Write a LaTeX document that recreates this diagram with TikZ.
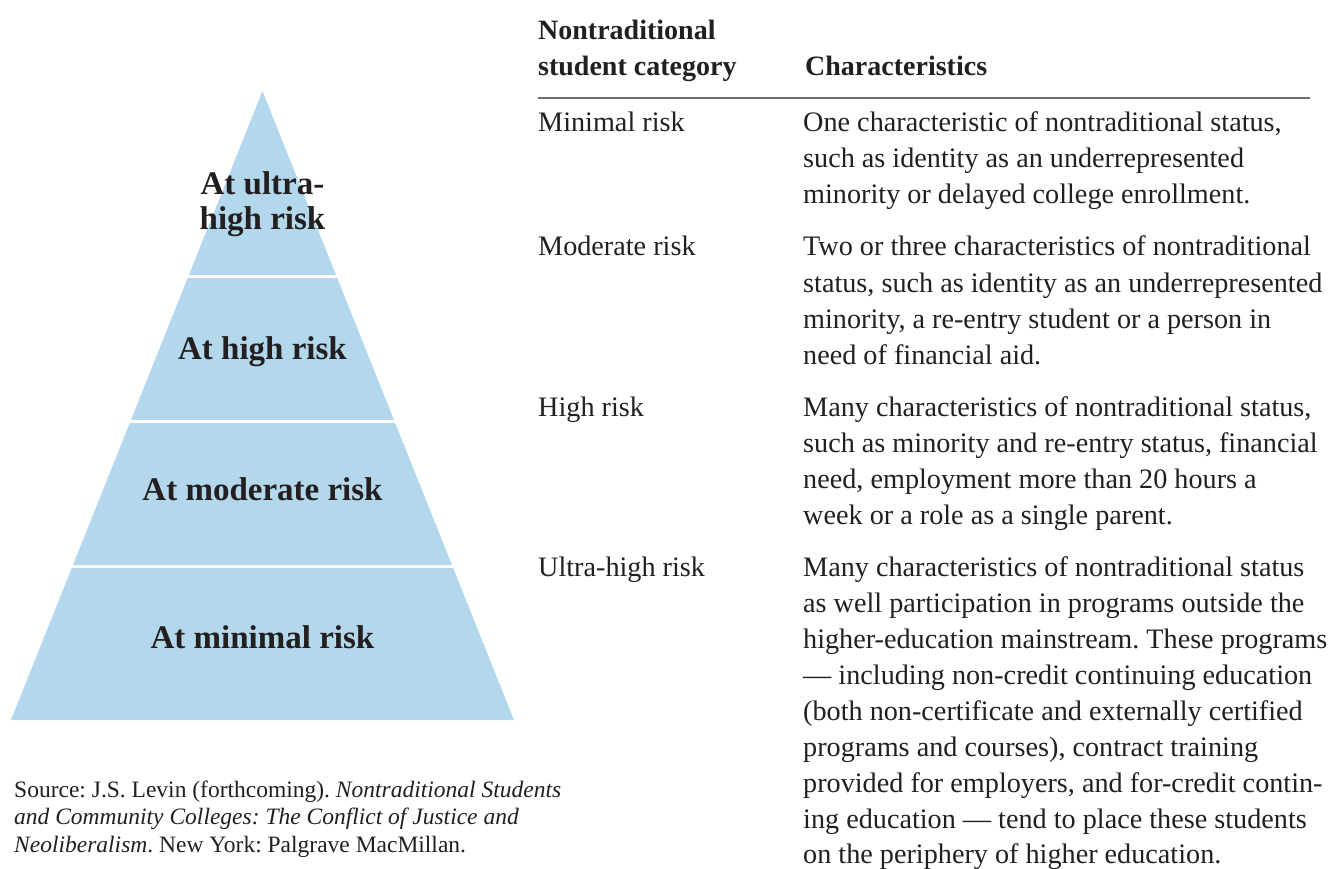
\documentclass[tikz,border=0pt]{standalone}
\usepackage{fontspec}
\setmainfont{Liberation Serif}
\frenchspacing
\definecolor{pyr}{RGB}{179,216,236}
\definecolor{ink}{RGB}{35,31,32}
\definecolor{rule}{RGB}{110,110,113}
\tikzset{
  cell/.style={anchor=base west, inner sep=0pt, text=ink, font=\fontsize{28.2}{36}\selectfont\frenchspacing},
  head/.style={anchor=base west, inner sep=0pt, text=ink, font=\fontsize{28}{34}\selectfont\bfseries},
  lvl/.style={anchor=base, inner sep=0pt, text=ink, font=\fontsize{33}{35}\selectfont\bfseries},
  src/.style={anchor=base west, inner sep=0pt, text=ink, font=\fontsize{23.5}{27}\selectfont\frenchspacing},
  gap/.style={draw=white, line width=3pt},
}
\begin{document}
\begin{tikzpicture}[x=1pt,y=-1pt]
\useasboundingbox (0,0) rectangle (1342,869);
% pyramid
\coordinate (apex) at (262.5,91);
\coordinate (bl) at (11,720);
\coordinate (br) at (514,720);
\fill[pyr] (apex) -- (br) -- (bl) -- cycle;
\coordinate (s1l) at (150,277); \coordinate (s1r) at (380,277);
\coordinate (s2l) at (80,421);  \coordinate (s2r) at (450,421);
\coordinate (s3l) at (10,566);  \coordinate (s3r) at (520,566);
\draw[gap] (s1l) -- (s1r);
\draw[gap] (s2l) -- (s2r);
\draw[gap] (s3l) -- (s3r);
\node[lvl] (l4a) at (262.5,195) {At ultra-};
\node[lvl] (l4b) at (262.5,230) {high risk};
\node[lvl] (l3) at (262.5,359) {At high risk};
\node[lvl] (l2) at (262.5,500) {At moderate risk};
\node[lvl] (l1) at (262.5,648) {At minimal risk};
% header
\node[head] (h1a) at (538,40) {Nontraditional};
\node[head] (h1b) at (538,76) {student category};
\node[head] (h2) at (805,76) {Characteristics};
\coordinate (rl) at (538,98);
\coordinate (rr) at (1310,98);
\draw[rule, line width=2.2pt] (rl) -- (rr);
% minimal
\node[cell] (c1) at (538,132) {Minimal risk};
\node[cell] (d1a) at (803,132) {One characteristic of nontraditional status,};
\node[cell] (d1b) at (803,168) {such as identity as an underrepresented};
\node[cell] (d1c) at (803,204) {minority or delayed college enrollment.};
% moderate
\node[cell] (c2) at (538,256) {Moderate risk};
\node[cell] (d2a) at (803,256) {Two or three characteristics of nontraditional};
\node[cell] (d2b) at (803,292) {status, such as identity as an underrepresented};
\node[cell] (d2c) at (803,328) {minority, a re-entry student or a person in};
\node[cell] (d2d) at (803,364) {need of financial aid.};
% high
\node[cell] (c3) at (538,416) {High risk};
\node[cell] (d3a) at (803,416) {Many characteristics of nontraditional status,};
\node[cell] (d3b) at (803,452) {such as minority and re-entry status, financial};
\node[cell] (d3c) at (803,488) {need, employment more than 20 hours a};
\node[cell] (d3d) at (803,524) {week or a role as a single parent.};
% ultra-high
\node[cell] (c4) at (538,576) {Ultra-high risk};
\node[cell] (d4a) at (803,576) {Many characteristics of nontraditional status};
\node[cell] (d4b) at (803,612) {as well participation in programs outside the};
\node[cell] (d4c) at (803,648) {higher-education mainstream. These programs};
\node[cell] (d4d) at (803,684) {— including non-credit continuing education};
\node[cell] (d4e) at (803,720) {(both non-certificate and externally certified};
\node[cell] (d4f) at (803,756) {programs and courses), contract training};
\node[cell] (d4g) at (803,792) {provided for employers, and for-credit contin-};
\node[cell] (d4h) at (803,828) {ing education — tend to place these students};
\node[cell] (d4i) at (803,863) {on the periphery of higher education.};
% source
\node[src] (sa) at (14,797) {Source: J.S. Levin (forthcoming). \textit{Nontraditional Students}};
\node[src] (sb) at (14,824) {\textit{and Community Colleges: The Conflict of Justice and}};
\node[src] (sc) at (14,852) {\textit{Neoliberalism}. New York: Palgrave MacMillan.};
\end{tikzpicture}
\end{document}
